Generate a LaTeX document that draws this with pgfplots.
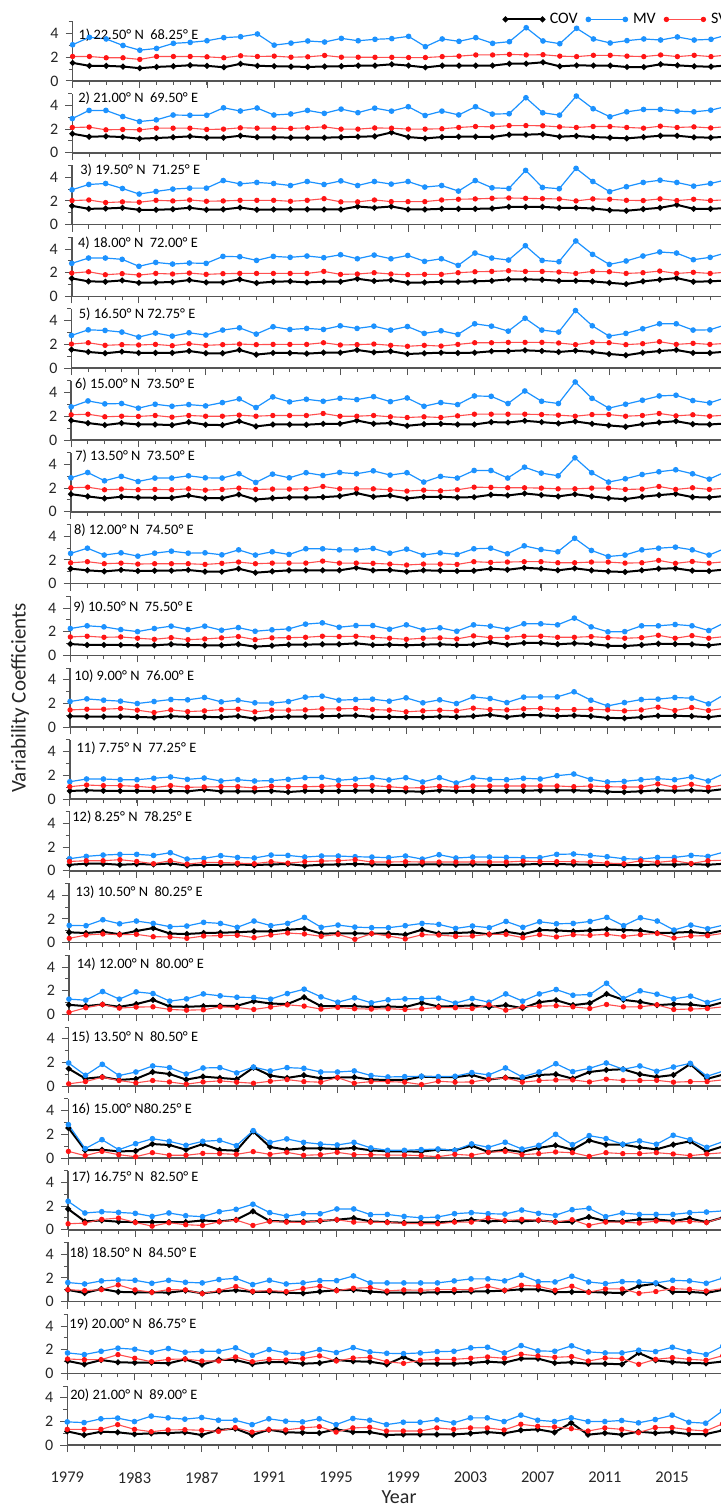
\documentclass[border=0pt]{standalone}
\usepackage{pgfplots}
\pgfplotsset{compat=1.18}
\usepackage{fontspec}
\setmainfont{Carlito}

\definecolor{mvblue}{RGB}{28,146,255}
\definecolor{svred}{RGB}{255,20,20}
\definecolor{svline}{RGB}{255,80,80}
\definecolor{axgray}{RGB}{85,85,85}

\pgfplotsset{
  table/ser/.style={header=false, x expr=\coordindex+1979, y index=0, row sep=\\},
  panel/.style={
    scale only axis, width=331.8pt, height=29.6pt,
    xmin=1979, xmax=2018.5, ymin=0, ymax=5,
    axis x line*=bottom, axis y line*=left,
    axis line style={-, line width=0.75pt, axgray},
    xtick={1979,1983,...,2015}, minor xtick={1979,...,2018},
    ytick={0,2,4}, minor ytick={1,3,5},
    tick align=outside, major tick length=3.5pt, minor tick length=2pt,
    every tick/.style={axgray, line width=0.5pt},
    xticklabels={},
    yticklabel style={font=\fontsize{8}{9}\selectfont, text=black!85},
    /pgf/number format/assume math mode=true,
    clip=false,
  },
  cov/.style={black, line width=1pt, mark=*, mark size=0.9pt},
  mv/.style={mvblue, line width=0.6pt, mark=*, mark size=1.1pt},
  sv/.style={svline, line width=0.55pt, mark=*, mark size=1.05pt, mark options={fill=svred, draw=svred}},
}
\tikzset{lab/.style={anchor=west, inner sep=0pt, font=\fontsize{7.2}{8}\selectfont}}
\newcommand{\gap}{\hspace{0.45em}}

\begin{document}
\begin{tikzpicture}
\useasboundingbox (0,0) rectangle (360.5pt,-754pt);
\clip (0,0) rectangle (360.5pt,-754pt);

% ---------- 1 ----------
\begin{axis}[panel, at={(36.30pt,-40.50pt)}, anchor=south west,
  legend columns=3,
  legend style={draw=none, fill=none, at={(0.649,1.04)}, anchor=west, inner sep=0pt,
    font=\fontsize{8}{9.6}\selectfont,
    /tikz/every even column/.append style={column sep=1.5pt},
    nodes={inner xsep=2.75pt, inner ysep=1pt}},
  legend image code/.code={\draw[mark repeat=1,mark phase=1] plot coordinates {(0pt,0pt) (18.5pt,0pt)};}]
\addplot[cov] table[ser] {1.53\\1.28\\1.28\\1.22\\1.08\\1.19\\1.25\\1.33\\1.28\\1.16\\1.45\\1.28\\1.25\\1.22\\1.19\\1.22\\1.25\\1.30\\1.30\\1.41\\1.30\\1.15\\1.30\\1.30\\1.30\\1.30\\1.46\\1.46\\1.58\\1.24\\1.32\\1.30\\1.30\\1.18\\1.18\\1.41\\1.32\\1.24\\1.21\\1.32\\};
\addplot[mv] table[ser] {3.06\\3.69\\3.55\\3.00\\2.60\\2.75\\3.18\\3.26\\3.40\\3.66\\3.74\\3.97\\3.03\\3.20\\3.38\\3.29\\3.60\\3.40\\3.52\\3.58\\3.77\\2.90\\3.55\\3.35\\3.66\\3.18\\3.32\\4.50\\3.38\\3.15\\4.45\\3.55\\3.21\\3.41\\3.55\\3.46\\3.72\\3.46\\3.52\\3.90\\};
\addplot[sv] table[ser] {2.07\\2.07\\1.96\\1.96\\1.82\\2.07\\2.07\\2.07\\2.04\\1.96\\2.13\\2.07\\2.10\\2.01\\2.04\\2.16\\2.01\\2.01\\2.00\\2.00\\1.98\\1.98\\2.06\\2.10\\2.20\\2.20\\2.25\\2.20\\2.22\\2.10\\2.06\\2.17\\2.17\\2.10\\2.06\\2.20\\2.06\\2.17\\2.06\\2.20\\};
\legend{COV,MV,SV}
\node[lab] at (axis cs:{1979+5.7/16.8},3.9) {1) 22.50° N\gap 68.25° E};
\end{axis}

% ---------- 2 ----------
\begin{axis}[panel, at={(36.16pt,-76.40pt)}, anchor=south west]
\addplot[cov] table[ser] {1.61\\1.36\\1.39\\1.33\\1.19\\1.25\\1.31\\1.39\\1.28\\1.28\\1.44\\1.31\\1.31\\1.28\\1.28\\1.28\\1.31\\1.36\\1.39\\1.72\\1.33\\1.22\\1.33\\1.36\\1.36\\1.33\\1.53\\1.53\\1.58\\1.36\\1.42\\1.33\\1.28\\1.22\\1.33\\1.44\\1.44\\1.31\\1.28\\1.36\\};
\addplot[mv] table[ser] {2.89\\3.58\\3.58\\3.06\\2.64\\2.78\\3.19\\3.17\\3.17\\3.80\\3.53\\3.78\\3.19\\3.28\\3.58\\3.33\\3.69\\3.39\\3.77\\3.52\\3.89\\3.15\\3.52\\3.20\\3.89\\3.27\\3.30\\4.65\\3.38\\3.18\\4.79\\3.72\\3.04\\3.46\\3.66\\3.66\\3.52\\3.46\\3.60\\3.94\\};
\addplot[sv] table[ser] {2.14\\2.17\\1.94\\1.97\\1.94\\2.08\\2.08\\2.08\\1.97\\2.00\\2.11\\2.08\\2.08\\2.06\\2.11\\2.19\\2.00\\2.00\\2.10\\2.08\\2.00\\2.00\\2.03\\2.14\\2.22\\2.19\\2.30\\2.30\\2.28\\2.19\\2.14\\2.22\\2.22\\2.14\\2.08\\2.25\\2.14\\2.19\\2.10\\2.22\\};
\node[lab] at (axis cs:{1979+5.7/16.8},4.64) {2) 21.00° N\gap 69.50° E};
\end{axis}

% ---------- 3 ----------
\begin{axis}[panel, at={(36.02pt,-112.30pt)}, anchor=south west]
\addplot[cov] table[ser] {1.58\\1.33\\1.36\\1.42\\1.25\\1.25\\1.30\\1.42\\1.25\\1.28\\1.44\\1.25\\1.28\\1.28\\1.28\\1.28\\1.28\\1.53\\1.42\\1.53\\1.28\\1.28\\1.33\\1.33\\1.33\\1.36\\1.50\\1.50\\1.50\\1.42\\1.42\\1.36\\1.22\\1.17\\1.30\\1.42\\1.67\\1.33\\1.33\\1.40\\};
\addplot[mv] table[ser] {2.94\\3.39\\3.47\\3.05\\2.58\\2.80\\3.00\\3.08\\3.08\\3.72\\3.44\\3.56\\3.47\\3.30\\3.64\\3.39\\3.69\\3.30\\3.64\\3.42\\3.64\\3.17\\3.30\\2.83\\3.72\\3.11\\3.05\\4.58\\3.14\\3.03\\4.75\\3.64\\2.78\\3.20\\3.56\\3.75\\3.56\\3.25\\3.47\\3.80\\};
\addplot[sv] table[ser] {2.03\\2.08\\1.86\\1.92\\1.89\\2.05\\2.00\\2.08\\1.97\\2.00\\2.05\\2.05\\2.05\\1.97\\2.05\\2.19\\1.92\\1.92\\2.08\\1.94\\1.94\\1.94\\2.08\\2.14\\2.17\\2.22\\2.25\\2.22\\2.19\\2.17\\2.00\\2.17\\2.14\\2.05\\2.03\\2.17\\2.03\\2.14\\2.03\\2.10\\};
\node[lab] at (axis cs:{1979+8/16.8},4.6) {3) 19.50° N\gap 71.25° E};
\end{axis}

% ---------- 4 ----------
\begin{axis}[panel, at={(35.88pt,-148.20pt)}, anchor=south west]
\addplot[cov] table[ser] {1.52\\1.27\\1.24\\1.35\\1.15\\1.18\\1.21\\1.38\\1.18\\1.18\\1.44\\1.13\\1.24\\1.27\\1.18\\1.24\\1.24\\1.49\\1.30\\1.38\\1.15\\1.18\\1.24\\1.24\\1.27\\1.32\\1.44\\1.44\\1.41\\1.32\\1.32\\1.27\\1.15\\1.04\\1.27\\1.41\\1.55\\1.24\\1.27\\1.35\\};
\addplot[mv] table[ser] {2.79\\3.24\\3.24\\3.13\\2.54\\2.87\\2.73\\2.82\\2.79\\3.38\\3.35\\3.04\\3.38\\3.30\\3.41\\3.27\\3.52\\3.18\\3.49\\3.18\\3.46\\2.96\\3.18\\2.62\\3.66\\3.24\\3.07\\4.28\\3.04\\2.93\\4.68\\3.55\\2.70\\2.99\\3.41\\3.75\\3.66\\3.10\\3.30\\3.70\\};
\addplot[sv] table[ser] {1.97\\2.08\\1.83\\1.92\\1.80\\1.94\\1.89\\1.97\\1.86\\1.92\\1.94\\1.94\\1.94\\1.94\\1.94\\2.11\\1.86\\1.89\\2.00\\1.89\\1.83\\1.86\\1.86\\2.00\\2.08\\2.11\\2.17\\2.11\\2.11\\2.06\\1.94\\2.11\\2.08\\1.94\\2.00\\2.14\\1.94\\2.03\\1.94\\2.05\\};
\node[lab] at (axis cs:{1979+6/16.8},4.48) {4) 18.00° N\gap 72.00° E};
\end{axis}

% ---------- 5 ----------
\begin{axis}[panel, at={(35.74pt,-184.10pt)}, anchor=south west]
\addplot[cov] table[ser] {1.57\\1.37\\1.26\\1.40\\1.29\\1.29\\1.29\\1.45\\1.26\\1.26\\1.54\\1.15\\1.29\\1.29\\1.23\\1.31\\1.31\\1.54\\1.34\\1.43\\1.20\\1.26\\1.31\\1.29\\1.31\\1.43\\1.45\\1.51\\1.45\\1.37\\1.48\\1.37\\1.20\\1.09\\1.31\\1.45\\1.54\\1.29\\1.29\\1.40\\};
\addplot[mv] table[ser] {2.77\\3.24\\3.19\\3.05\\2.63\\2.97\\2.71\\2.99\\2.80\\3.22\\3.41\\2.88\\3.50\\3.27\\3.36\\3.27\\3.58\\3.36\\3.55\\3.22\\3.52\\2.94\\3.16\\2.85\\3.75\\3.55\\3.13\\4.22\\3.22\\3.05\\4.87\\3.58\\2.71\\2.94\\3.33\\3.75\\3.75\\3.22\\3.24\\3.70\\};
\addplot[sv] table[ser] {2.04\\2.15\\1.93\\1.99\\1.96\\2.01\\1.90\\2.07\\1.93\\1.99\\2.04\\1.99\\2.01\\2.01\\2.01\\2.15\\1.96\\1.99\\2.04\\1.93\\1.85\\1.93\\1.87\\2.01\\2.15\\2.15\\2.18\\2.18\\2.18\\2.13\\1.99\\2.18\\2.15\\1.99\\2.07\\2.24\\2.01\\2.10\\2.01\\2.10\\};
\node[lab] at (axis cs:{1979+7/16.8},4.6) {5) 16.50° N 72.75° E};
\end{axis}

% ---------- 6 ----------
\begin{axis}[panel, at={(35.60pt,-220.00pt)}, anchor=south west]
\addplot[cov] table[ser] {1.65\\1.43\\1.26\\1.43\\1.31\\1.31\\1.26\\1.51\\1.29\\1.26\\1.59\\1.15\\1.31\\1.31\\1.29\\1.37\\1.37\\1.65\\1.37\\1.43\\1.20\\1.34\\1.37\\1.31\\1.31\\1.51\\1.48\\1.62\\1.51\\1.40\\1.57\\1.37\\1.23\\1.12\\1.34\\1.48\\1.59\\1.34\\1.31\\1.40\\};
\addplot[mv] table[ser] {2.80\\3.30\\3.05\\3.08\\2.69\\3.02\\2.85\\2.99\\2.88\\3.16\\3.47\\2.74\\3.64\\3.22\\3.44\\3.27\\3.52\\3.41\\3.66\\3.24\\3.55\\2.85\\3.16\\2.99\\3.72\\3.69\\3.08\\4.14\\3.27\\3.08\\4.90\\3.52\\2.69\\3.02\\3.36\\3.72\\3.78\\3.33\\3.13\\3.60\\};
\addplot[sv] table[ser] {2.13\\2.18\\1.96\\2.01\\1.99\\2.07\\1.93\\2.07\\2.01\\2.01\\2.10\\2.01\\2.07\\2.07\\2.07\\2.24\\2.01\\2.01\\2.07\\1.96\\1.90\\1.96\\1.90\\2.04\\2.18\\2.18\\2.18\\2.18\\2.15\\2.10\\2.01\\2.15\\2.15\\2.01\\2.07\\2.24\\2.04\\2.13\\2.01\\2.10\\};
\node[lab] at (axis cs:{1979+3.5/16.8},4.7) {6) 15.00° N\gap 73.50° E};
\end{axis}

% ---------- 7 ----------
\begin{axis}[panel, at={(35.46pt,-255.90pt)}, anchor=south west]
\addplot[cov] table[ser] {1.49\\1.30\\1.13\\1.27\\1.21\\1.18\\1.18\\1.38\\1.15\\1.15\\1.46\\1.04\\1.15\\1.21\\1.21\\1.24\\1.32\\1.58\\1.27\\1.38\\1.13\\1.27\\1.27\\1.21\\1.24\\1.44\\1.38\\1.55\\1.41\\1.30\\1.49\\1.30\\1.15\\1.07\\1.27\\1.41\\1.52\\1.24\\1.21\\1.35\\};
\addplot[mv] table[ser] {2.87\\3.32\\2.62\\2.99\\2.56\\2.85\\2.85\\3.04\\2.87\\2.85\\3.21\\2.48\\3.18\\2.87\\3.30\\3.07\\3.32\\3.21\\3.46\\3.10\\3.30\\2.51\\2.99\\2.85\\3.49\\3.49\\2.85\\3.77\\3.27\\3.04\\4.56\\3.30\\2.51\\2.79\\3.15\\3.38\\3.55\\3.21\\2.76\\3.40\\};
\addplot[sv] table[ser] {2.03\\2.08\\1.86\\1.92\\1.86\\1.89\\1.86\\1.94\\1.83\\1.89\\2.00\\1.89\\1.92\\1.92\\1.94\\2.14\\1.94\\1.94\\1.94\\1.86\\1.75\\1.83\\1.77\\1.86\\2.08\\2.06\\2.03\\2.03\\2.00\\1.94\\1.94\\2.00\\2.00\\1.89\\1.92\\2.14\\1.89\\2.03\\1.89\\2.00\\};
\node[lab] at (axis cs:{1979+4/16.8},4.7) {7) 13.50° N\gap 73.50° E};
\end{axis}

% ---------- 8 ----------
\begin{axis}[panel, at={(35.32pt,-291.80pt)}, anchor=south west]
\addplot[cov] table[ser] {1.26\\1.12\\1.03\\1.15\\1.06\\1.09\\1.09\\1.15\\1.01\\1.01\\1.26\\0.92\\1.03\\1.12\\1.12\\1.12\\1.12\\1.34\\1.12\\1.15\\1.01\\1.12\\1.09\\1.06\\1.09\\1.26\\1.17\\1.34\\1.26\\1.12\\1.29\\1.12\\1.03\\0.98\\1.12\\1.26\\1.29\\1.09\\1.06\\1.20\\};
\addplot[mv] table[ser] {2.55\\2.99\\2.41\\2.60\\2.32\\2.57\\2.74\\2.57\\2.60\\2.43\\2.85\\2.41\\2.69\\2.46\\2.94\\2.94\\2.85\\2.85\\2.97\\2.57\\2.91\\2.41\\2.60\\2.46\\2.94\\2.99\\2.52\\3.19\\2.88\\2.69\\3.83\\2.80\\2.29\\2.41\\2.85\\2.99\\3.08\\2.85\\2.41\\3.00\\};
\addplot[sv] table[ser] {1.76\\1.85\\1.68\\1.73\\1.65\\1.68\\1.68\\1.68\\1.62\\1.71\\1.82\\1.68\\1.73\\1.73\\1.73\\1.90\\1.73\\1.73\\1.71\\1.65\\1.57\\1.65\\1.65\\1.62\\1.85\\1.79\\1.82\\1.85\\1.85\\1.76\\1.76\\1.82\\1.82\\1.73\\1.76\\1.96\\1.71\\1.87\\1.73\\1.85\\};
\node[lab] at (axis cs:{1979+3/16.8},4.48) {8) 12.00° N\gap 74.50° E};
\end{axis}

% ---------- 9 ----------
\begin{axis}[panel, at={(35.18pt,-327.70pt)}, anchor=south west]
\addplot[cov] table[ser] {0.96\\0.88\\0.88\\0.88\\0.85\\0.85\\0.94\\0.88\\0.85\\0.85\\0.94\\0.74\\0.82\\0.91\\0.91\\0.94\\0.94\\1.02\\0.88\\0.91\\0.85\\0.91\\0.94\\0.88\\0.91\\1.11\\0.91\\1.05\\1.05\\0.94\\1.02\\0.96\\0.82\\0.79\\0.88\\0.99\\0.96\\0.94\\0.85\\1.00\\};
\addplot[mv] table[ser] {2.27\\2.50\\2.41\\2.18\\2.01\\2.27\\2.47\\2.18\\2.47\\2.13\\2.35\\2.04\\2.16\\2.24\\2.64\\2.75\\2.38\\2.52\\2.52\\2.21\\2.58\\2.16\\2.33\\2.04\\2.58\\2.47\\2.21\\2.67\\2.67\\2.58\\3.15\\2.41\\1.99\\2.01\\2.50\\2.50\\2.61\\2.50\\2.10\\2.80\\};
\addplot[sv] table[ser] {1.56\\1.62\\1.53\\1.56\\1.45\\1.36\\1.50\\1.33\\1.39\\1.48\\1.59\\1.33\\1.48\\1.50\\1.53\\1.62\\1.59\\1.62\\1.53\\1.45\\1.36\\1.45\\1.48\\1.39\\1.65\\1.50\\1.53\\1.62\\1.62\\1.53\\1.53\\1.59\\1.50\\1.45\\1.50\\1.70\\1.45\\1.67\\1.45\\1.60\\};
\node[lab] at (axis cs:{1979+2.5/16.8},4.06) {9) 10.50° N\gap 75.50° E};
\end{axis}

% ---------- 10 ----------
\begin{axis}[panel, at={(35.04pt,-363.60pt)}, anchor=south west]
\addplot[cov] table[ser] {0.93\\0.90\\0.90\\0.90\\0.87\\0.82\\0.93\\0.87\\0.87\\0.85\\0.93\\0.73\\0.85\\0.90\\0.90\\0.93\\0.96\\0.99\\0.87\\0.87\\0.85\\0.85\\0.90\\0.87\\0.93\\1.04\\0.87\\1.01\\1.01\\0.93\\0.99\\0.93\\0.79\\0.76\\0.85\\0.96\\0.96\\0.93\\0.85\\1.00\\};
\addplot[mv] table[ser] {2.17\\2.39\\2.28\\2.20\\2.00\\2.17\\2.34\\2.31\\2.51\\2.14\\2.28\\2.06\\2.03\\2.17\\2.54\\2.62\\2.28\\2.34\\2.37\\2.20\\2.48\\2.06\\2.31\\2.00\\2.56\\2.42\\2.08\\2.54\\2.56\\2.56\\2.99\\2.28\\1.80\\2.08\\2.34\\2.37\\2.51\\2.45\\1.97\\2.80\\};
\addplot[sv] table[ser] {1.46\\1.52\\1.52\\1.58\\1.44\\1.24\\1.46\\1.32\\1.38\\1.49\\1.52\\1.30\\1.44\\1.44\\1.46\\1.55\\1.55\\1.58\\1.49\\1.44\\1.30\\1.38\\1.44\\1.38\\1.61\\1.49\\1.46\\1.55\\1.58\\1.49\\1.49\\1.52\\1.46\\1.38\\1.46\\1.69\\1.41\\1.66\\1.41\\1.60\\};
\node[lab] at (axis cs:{1979+4/16.8},4.34) {10) 9.00° N\gap 76.00° E};
\end{axis}

% ---------- 11 ----------
\begin{axis}[panel, at={(34.90pt,-399.50pt)}, anchor=south west]
\addplot[cov] table[ser] {0.68\\0.73\\0.70\\0.68\\0.68\\0.70\\0.68\\0.65\\0.79\\0.65\\0.65\\0.65\\0.68\\0.59\\0.68\\0.68\\0.68\\0.70\\0.70\\0.68\\0.65\\0.62\\0.73\\0.68\\0.68\\0.70\\0.70\\0.70\\0.73\\0.73\\0.73\\0.70\\0.62\\0.59\\0.65\\0.73\\0.70\\0.73\\0.68\\0.85\\};
\addplot[mv] table[ser] {1.46\\1.69\\1.69\\1.63\\1.63\\1.75\\1.86\\1.66\\1.77\\1.52\\1.63\\1.52\\1.55\\1.66\\1.80\\1.83\\1.58\\1.69\\1.80\\1.61\\1.80\\1.44\\1.80\\1.35\\1.80\\1.66\\1.63\\1.75\\1.69\\1.97\\2.11\\1.66\\1.44\\1.49\\1.63\\1.72\\1.63\\1.86\\1.52\\2.20\\};
\addplot[sv] table[ser] {1.04\\1.18\\1.13\\1.13\\1.07\\0.96\\1.13\\0.99\\1.01\\1.04\\1.04\\0.93\\1.07\\1.04\\1.04\\1.07\\1.13\\1.13\\1.13\\1.04\\0.93\\0.96\\1.07\\0.99\\1.10\\1.10\\1.10\\1.10\\1.10\\1.10\\1.04\\1.10\\1.04\\1.01\\1.01\\1.27\\0.99\\1.24\\0.99\\1.20\\};
\node[lab] at (axis cs:{1979+6.5/16.8},4.31) {11) 7.75° N\gap 77.25° E};
\end{axis}

% ---------- 12 ----------
\begin{axis}[panel, at={(34.76pt,-435.40pt)}, anchor=south west]
\addplot[cov] table[ser] {0.51\\0.60\\0.60\\0.51\\0.57\\0.54\\0.62\\0.45\\0.51\\0.51\\0.54\\0.48\\0.54\\0.57\\0.43\\0.51\\0.54\\0.57\\0.54\\0.51\\0.51\\0.54\\0.54\\0.51\\0.54\\0.51\\0.51\\0.54\\0.57\\0.57\\0.54\\0.51\\0.51\\0.48\\0.48\\0.54\\0.51\\0.57\\0.51\\0.60\\};
\addplot[mv] table[ser] {1.02\\1.22\\1.33\\1.39\\1.39\\1.30\\1.53\\0.99\\1.05\\1.28\\1.13\\1.08\\1.33\\1.30\\1.16\\1.25\\1.25\\1.19\\1.16\\1.11\\1.25\\0.99\\1.36\\1.08\\1.16\\1.16\\1.13\\1.11\\1.11\\1.39\\1.42\\1.30\\1.19\\1.02\\0.99\\1.13\\1.13\\1.30\\1.22\\1.60\\};
\addplot[sv] table[ser] {0.79\\0.85\\0.85\\0.94\\0.79\\0.60\\0.85\\0.57\\0.71\\0.71\\0.65\\0.60\\0.77\\0.65\\0.77\\0.82\\0.85\\0.94\\0.74\\0.74\\0.77\\0.74\\0.74\\0.74\\0.74\\0.74\\0.74\\0.82\\0.77\\0.77\\0.77\\0.74\\0.65\\0.60\\0.85\\0.71\\0.85\\0.62\\0.85\\0.90\\};
\node[lab] at (axis cs:{1979+2.5/16.8},4.54) {12) 8.25° N\gap 78.25° E};
\end{axis}

% ---------- 13 ----------
\begin{axis}[panel, at={(34.62pt,-471.30pt)}, anchor=south west]
\addplot[cov] table[ser] {0.87\\0.81\\0.92\\0.70\\0.98\\1.23\\0.76\\0.73\\0.81\\0.84\\0.87\\0.95\\0.95\\1.09\\1.17\\0.76\\0.78\\0.78\\0.76\\0.76\\0.67\\1.09\\0.76\\0.81\\0.87\\0.70\\0.92\\0.70\\1.06\\1.03\\0.95\\1.03\\1.12\\1.06\\1.03\\0.81\\0.84\\0.90\\0.76\\1.05\\};
\addplot[mv] table[ser] {1.45\\1.43\\1.93\\1.59\\1.82\\1.62\\1.34\\1.40\\1.71\\1.62\\1.29\\1.82\\1.43\\1.62\\2.13\\1.29\\1.48\\1.31\\1.26\\1.26\\1.43\\1.62\\1.54\\1.20\\1.40\\1.26\\1.79\\1.29\\1.76\\1.59\\1.62\\1.79\\2.13\\1.43\\2.10\\1.82\\1.06\\1.48\\1.17\\1.50\\};
\addplot[sv] table[ser] {0.36\\0.64\\0.73\\0.67\\0.70\\0.50\\0.48\\0.36\\0.56\\0.59\\0.62\\0.42\\0.64\\0.81\\0.73\\0.53\\0.70\\0.28\\0.76\\0.56\\0.31\\0.67\\0.64\\0.53\\0.56\\0.70\\0.70\\0.42\\0.67\\0.48\\0.67\\0.62\\0.70\\0.53\\0.67\\0.78\\0.39\\0.56\\0.59\\0.80\\};
\node[lab] at (axis cs:{1979+6/16.8},4.28) {13) 10.50° N\gap 80.25° E};
\end{axis}

% ---------- 14 ----------
\begin{axis}[panel, at={(34.48pt,-507.20pt)}, anchor=south west]
\addplot[cov] table[ser] {0.81\\0.70\\0.84\\0.64\\0.87\\1.23\\0.67\\0.64\\0.70\\0.73\\0.73\\1.12\\0.92\\0.87\\1.45\\0.70\\0.70\\0.70\\0.62\\0.67\\0.62\\0.98\\0.67\\0.70\\0.76\\0.62\\0.78\\0.53\\1.03\\1.20\\0.78\\0.95\\1.73\\1.23\\1.06\\0.78\\0.87\\0.84\\0.67\\1.05\\};
\addplot[mv] table[ser] {1.29\\1.20\\1.93\\1.29\\1.90\\1.76\\1.12\\1.31\\1.73\\1.57\\1.45\\1.43\\1.29\\1.76\\2.13\\1.48\\1.03\\1.40\\0.98\\1.23\\1.31\\1.34\\1.37\\0.95\\1.34\\1.03\\1.73\\1.12\\1.73\\2.10\\1.62\\1.68\\2.63\\1.34\\1.99\\1.71\\1.31\\1.54\\1.01\\1.40\\};
\addplot[sv] table[ser] {0.17\\0.56\\0.84\\0.53\\0.62\\0.64\\0.42\\0.36\\0.39\\0.64\\0.59\\0.42\\0.62\\0.81\\0.70\\0.45\\0.59\\0.48\\0.45\\0.48\\0.42\\0.48\\0.59\\0.56\\0.50\\0.81\\0.36\\0.64\\0.70\\0.73\\0.64\\0.50\\0.84\\0.64\\0.64\\0.81\\0.42\\0.45\\0.50\\0.65\\};
\node[lab] at (axis cs:{1979+7.5/16.8},4.28) {14) 12.00° N\gap 80.00° E};
\end{axis}

% ---------- 15 ----------
\begin{axis}[panel, at={(34.34pt,-543.10pt)}, anchor=south west]
\addplot[cov] table[ser] {1.48\\0.64\\0.78\\0.53\\0.62\\1.20\\1.03\\0.56\\0.81\\0.70\\0.59\\1.57\\0.90\\0.70\\0.92\\0.67\\0.73\\0.76\\0.56\\0.53\\0.53\\0.81\\0.76\\0.76\\0.95\\0.56\\0.73\\0.62\\0.95\\1.01\\0.64\\1.20\\1.37\\1.43\\1.01\\0.78\\0.95\\1.87\\0.62\\1.00\\};
\addplot[mv] table[ser] {1.96\\0.92\\1.85\\0.90\\1.20\\1.71\\1.57\\1.03\\1.54\\1.57\\1.12\\1.62\\1.29\\1.57\\1.51\\1.20\\1.20\\1.29\\0.90\\0.78\\0.81\\0.84\\0.81\\0.84\\1.15\\0.95\\1.54\\0.78\\1.20\\1.90\\1.23\\1.51\\1.96\\1.43\\1.71\\1.26\\1.62\\1.93\\0.84\\1.30\\};
\addplot[sv] table[ser] {0.20\\0.39\\0.76\\0.48\\0.28\\0.48\\0.36\\0.17\\0.36\\0.45\\0.34\\0.25\\0.42\\0.56\\0.39\\0.34\\0.73\\0.25\\0.39\\0.39\\0.34\\0.14\\0.42\\0.34\\0.36\\0.59\\0.70\\0.34\\0.48\\0.53\\0.53\\0.36\\0.59\\0.48\\0.48\\0.50\\0.34\\0.39\\0.39\\0.55\\};
\node[lab] at (axis cs:{1979+2/16.8},4.11) {15) 13.50° N\gap 80.50° E};
\end{axis}

% ---------- 16 ----------
\begin{axis}[panel, at={(34.20pt,-579.00pt)}, anchor=south west]
\addplot[cov] table[ser] {2.54\\0.65\\0.70\\0.56\\0.59\\1.18\\1.10\\0.70\\1.18\\0.68\\0.62\\2.25\\0.93\\0.70\\0.82\\0.82\\0.76\\0.85\\0.65\\0.56\\0.56\\0.54\\0.70\\0.65\\1.04\\0.51\\0.70\\0.51\\0.85\\1.07\\0.70\\1.49\\1.13\\1.13\\0.90\\0.73\\1.13\\1.41\\0.56\\1.00\\};
\addplot[mv] table[ser] {2.82\\0.79\\1.55\\0.70\\1.21\\1.63\\1.41\\1.07\\1.41\\1.49\\1.04\\2.31\\1.32\\1.61\\1.32\\1.18\\1.10\\1.32\\0.85\\0.65\\0.65\\0.71\\0.76\\0.65\\1.19\\0.90\\1.33\\0.76\\1.07\\2.00\\1.13\\1.89\\1.64\\1.16\\1.44\\1.16\\1.92\\1.55\\0.90\\1.40\\};
\addplot[sv] table[ser] {0.56\\0.20\\0.56\\0.28\\0.11\\0.45\\0.23\\0.23\\0.39\\0.37\\0.31\\0.54\\0.31\\0.48\\0.23\\0.28\\0.48\\0.28\\0.28\\0.25\\0.25\\0.20\\0.11\\0.31\\0.23\\0.48\\0.56\\0.28\\0.37\\0.51\\0.45\\0.14\\0.45\\0.37\\0.37\\0.45\\0.34\\0.20\\0.34\\0.45\\};
\node[lab] at (axis cs:{1979+2.5/16.8},4.14) {16) 15.00° N80.25° E};
\end{axis}

% ---------- 17 ----------
\begin{axis}[panel, at={(34.06pt,-614.90pt)}, anchor=south west]
\addplot[cov] table[ser] {1.76\\0.71\\0.79\\0.68\\0.65\\0.65\\0.65\\0.65\\0.79\\0.71\\0.85\\1.56\\0.74\\0.71\\0.68\\0.74\\0.85\\0.99\\0.71\\0.65\\0.60\\0.62\\0.62\\0.71\\0.85\\0.71\\0.77\\0.71\\0.79\\0.68\\0.68\\1.08\\0.74\\0.71\\0.88\\0.88\\0.74\\0.96\\0.65\\1.05\\};
\addplot[mv] table[ser] {2.41\\1.42\\1.53\\1.47\\1.39\\1.13\\1.42\\1.19\\1.11\\1.53\\1.73\\2.16\\1.45\\1.16\\1.36\\1.36\\1.76\\1.76\\1.28\\1.30\\1.13\\1.02\\1.08\\1.36\\1.45\\1.36\\1.33\\1.67\\1.39\\1.22\\1.70\\1.82\\1.11\\1.42\\1.30\\1.30\\1.30\\1.45\\1.50\\1.60\\};
\addplot[sv] table[ser] {0.51\\0.57\\0.88\\0.99\\0.62\\0.31\\0.60\\0.43\\0.37\\0.68\\0.82\\0.37\\0.71\\0.65\\0.62\\0.77\\0.85\\0.65\\0.65\\0.62\\0.54\\0.51\\0.51\\0.65\\0.65\\0.99\\0.77\\0.88\\0.82\\0.65\\0.85\\0.37\\0.65\\0.65\\0.57\\0.74\\0.65\\0.71\\0.62\\1.05\\};
\node[lab] at (axis cs:{1979+3/16.8},4.43) {17) 16.75° N\gap 82.50° E};
\end{axis}

% ---------- 18 ----------
\begin{axis}[panel, at={(33.92pt,-650.80pt)}, anchor=south west]
\addplot[cov] table[ser] {0.99\\0.73\\1.07\\0.82\\0.79\\0.79\\0.76\\0.93\\0.70\\0.85\\0.96\\0.82\\0.82\\0.76\\0.70\\0.85\\0.96\\0.99\\0.85\\0.76\\0.76\\0.76\\0.79\\0.82\\0.85\\0.87\\0.93\\1.04\\1.04\\0.79\\0.82\\0.82\\0.76\\0.73\\1.32\\1.52\\0.82\\0.82\\0.73\\1.00\\};
\addplot[mv] table[ser] {1.61\\1.49\\1.75\\1.83\\1.80\\1.55\\1.80\\1.63\\1.58\\1.86\\1.97\\1.44\\1.80\\1.49\\1.58\\1.77\\1.77\\2.17\\1.58\\1.58\\1.58\\1.58\\1.58\\1.75\\1.92\\1.92\\1.75\\2.23\\1.69\\1.66\\2.14\\1.66\\1.52\\1.69\\1.66\\1.58\\1.80\\1.75\\1.55\\2.00\\};
\addplot[sv] table[ser] {1.01\\0.93\\1.01\\1.41\\0.99\\0.79\\1.01\\0.99\\0.68\\0.93\\1.27\\0.87\\0.93\\0.85\\1.10\\1.30\\0.93\\1.13\\1.18\\0.90\\0.99\\0.96\\1.01\\1.01\\1.01\\1.30\\0.96\\1.38\\1.30\\0.96\\1.30\\0.79\\1.07\\1.07\\0.70\\0.85\\1.10\\1.04\\0.90\\1.10\\};
\node[lab] at (axis cs:{1979+1.5/16.8},4.06) {18) 18.50° N\gap 84.50° E};
\end{axis}

% ---------- 19 ----------
\begin{axis}[panel, at={(33.78pt,-686.70pt)}, anchor=south west]
\addplot[cov] table[ser] {1.05\\0.77\\1.13\\0.94\\0.91\\0.91\\0.85\\1.19\\0.74\\1.16\\1.13\\0.79\\0.96\\0.96\\0.82\\0.88\\1.13\\1.02\\0.99\\0.77\\1.39\\0.82\\0.82\\0.82\\0.88\\0.99\\0.91\\1.25\\1.25\\0.88\\0.94\\0.82\\0.82\\0.77\\1.73\\1.11\\0.96\\0.88\\0.85\\1.00\\};
\addplot[mv] table[ser] {1.73\\1.59\\1.87\\2.13\\2.04\\1.79\\2.10\\1.79\\1.87\\1.87\\2.16\\1.53\\2.01\\1.73\\1.67\\2.01\\1.76\\2.18\\1.82\\1.70\\1.67\\1.73\\1.84\\1.87\\2.16\\2.21\\1.73\\2.35\\1.90\\1.87\\2.33\\1.82\\1.73\\1.73\\1.96\\1.84\\2.21\\1.84\\1.59\\2.30\\};
\addplot[sv] table[ser] {1.22\\1.16\\1.16\\1.59\\1.28\\0.99\\1.19\\1.22\\1.05\\1.05\\1.39\\0.99\\1.19\\1.13\\1.25\\1.48\\1.05\\1.30\\1.36\\0.99\\0.85\\1.11\\1.19\\1.19\\1.28\\1.39\\1.28\\1.62\\1.48\\1.36\\1.42\\1.05\\1.30\\1.25\\0.77\\1.19\\1.33\\1.19\\1.11\\1.50\\};
\node[lab] at (axis cs:{1979+1.5/16.8},4.17) {19) 20.00° N\gap 86.75° E};
\end{axis}

% ---------- 20 ----------
\begin{axis}[panel, at={(33.64pt,-722.60pt)}, anchor=south west,
  xticklabels={1979,1983,1987,1991,1995,1999,2003,2007,2011,2015},
  xticklabel style={font=\fontsize{8.2}{9}\selectfont, text=black!85, yshift=-6.5pt},
  xlabel={Year}, xlabel style={font=\fontsize{10}{12}\selectfont, text=black!85, inner sep=0pt, yshift=0pt}]
\addplot[cov] table[ser] {1.17\\0.86\\1.14\\1.09\\0.94\\1.00\\1.03\\1.09\\0.86\\1.29\\1.40\\0.86\\1.31\\1.09\\1.06\\1.03\\1.34\\1.11\\1.11\\0.86\\0.91\\0.91\\0.91\\0.91\\1.00\\1.11\\1.00\\1.26\\1.34\\1.09\\1.89\\0.89\\1.03\\0.89\\1.14\\1.03\\1.11\\0.94\\0.94\\1.25\\};
\addplot[mv] table[ser] {1.97\\1.91\\2.23\\2.29\\2.00\\2.46\\2.31\\2.20\\2.34\\2.11\\2.11\\1.74\\2.23\\2.03\\1.97\\2.23\\1.74\\2.26\\2.11\\1.74\\1.94\\1.94\\2.14\\1.89\\2.31\\2.31\\2.00\\2.54\\2.11\\2.00\\2.31\\2.00\\2.00\\2.09\\1.89\\2.17\\2.54\\1.94\\1.86\\2.90\\};
\addplot[sv] table[ser] {1.34\\1.34\\1.34\\1.74\\1.34\\1.14\\1.29\\1.31\\1.26\\1.17\\1.49\\1.11\\1.31\\1.29\\1.46\\1.57\\1.11\\1.46\\1.51\\1.20\\1.20\\1.20\\1.46\\1.34\\1.46\\1.46\\1.29\\1.77\\1.60\\1.54\\1.40\\1.20\\1.46\\1.34\\1.06\\1.49\\1.49\\1.31\\1.20\\1.80\\};
\node[lab] at (axis cs:{1979+2.7/16.8},4.22) {20) 21.00° N\gap 89.00° E};
\end{axis}

\node[rotate=90, font=\fontsize{10.5}{12}\selectfont, text=black!85] at (10pt,-349pt) {Variability Coefficients};
\end{tikzpicture}
\end{document}
